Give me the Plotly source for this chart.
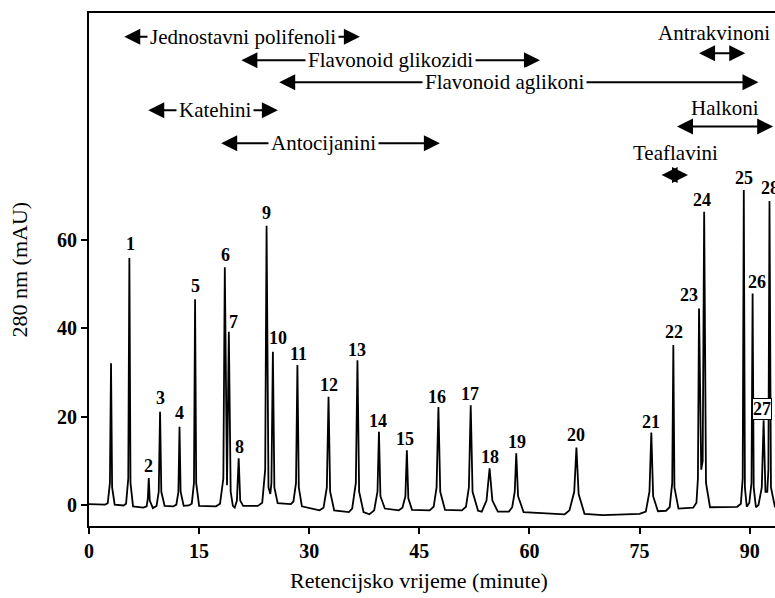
import plotly.graph_objects as go

# chromatogram trace (retention time in min, signal in mAU)
trace_t = [
    0, 2.2,
    2.55, 2.85, 3.0, 3.15, 3.5,
    4.7, 5.05, 5.35, 5.5, 5.65, 6.0,
    7.4, 7.85, 8.02, 8.14, 8.28, 8.7,
    9.2, 9.5, 9.68, 9.85, 10.3,
    11.5, 11.9, 12.18, 12.33, 12.48, 12.9,
    13.6, 14.0, 14.3, 14.45, 14.6, 15.0,
    17.3, 17.85, 18.3, 18.5, 18.8, 19.05, 19.3, 19.6, 19.85,
    20.15, 20.39, 20.6, 21.0,
    23.0, 23.6, 24.0, 24.19, 24.45, 24.7, 24.85, 25.05, 25.25, 25.7,
    27.5, 27.85, 28.2, 28.39, 28.58, 29.0,
    31.4, 31.95, 32.4, 32.63, 32.85, 33.4,
    35.4, 35.85, 36.35, 36.57, 36.8, 37.4,
    38.2, 38.85, 39.3, 39.5, 39.7, 40.3,
    42.2, 42.7, 43.1, 43.3, 43.5, 44.0,
    46.4, 46.95, 47.35, 47.6, 47.85, 48.5,
    50.8, 51.35, 51.75, 52.0, 52.25, 53.0,
    53.5, 54.15, 54.57, 54.95, 55.7,
    57.2, 57.65, 58.0, 58.2, 58.45, 59.2,
    64.8, 65.45, 66.1, 66.4, 66.7, 67.5,
    70.0, 75.0, 75.85, 76.35, 76.6, 76.85, 77.5,
    78.6, 79.1, 79.45, 79.6, 79.75, 80.3,
    82.3, 82.75, 82.95, 83.1, 83.4, 83.6, 83.8, 84.05, 84.6,
    88.3, 88.8, 89.05, 89.2, 89.35, 89.6, 89.95, 90.25, 90.4, 90.55, 90.85, 91.2,
    91.65, 91.9, 92.15, 92.4, 92.55, 92.7, 92.9, 93.45,
]
trace_mau = [
    0.2, 0.1,
    0.4, 5.0, 32.1, 4.0, 0.1,
    -0.1, 0.3, 6.0, 55.9, 5.0, -0.3,
    -0.6, -0.3, 1.5, 6.1, 1.0, -0.7,
    -0.2, 3.0, 21.1, 3.0, -0.2,
    -0.3, 0.1, 3.0, 17.7, 3.0, -0.2,
    -0.1, 0.3, 5.0, 46.6, 5.0, -0.2,
    -0.3, 0.3, 6.0, 53.8, 4.5, 39.2, 3.0, -0.2, -0.6,
    1.0, 10.6, 1.0, -0.2,
    -0.2, 0.5, 8.0, 63.2, 4.0, 2.5, 5.0, 34.7, 4.0, 0.4,
    0.2, 0.8, 5.0, 31.7, 4.0, -0.3,
    -1.2, -0.6, 4.0, 24.5, 3.0, -1.2,
    -1.6, -0.8, 5.0, 32.8, 3.0, -1.6,
    -2.1, -1.2, 3.0, 16.6, 2.0, -0.8,
    -1.2, -0.6, 2.0, 12.4, 1.5, -1.1,
    -1.2, -0.4, 4.0, 22.2, 3.0, -1.1,
    -1.2, -0.4, 4.0, 22.6, 3.0, -1.3,
    -1.5, 1.0, 8.3, 1.0, -1.5,
    -1.5, -0.5, 3.0, 11.7, 2.0, -1.6,
    -2.1, -1.2, 3.0, 13.0, 2.5, -2.0,
    -2.3, -2.0, -1.5, 3.0, 16.4, 2.0, -1.4,
    -1.3, -0.5, 5.0, 36.2, 4.0, -0.8,
    -0.6, 0.5, 6.0, 44.5, 8.0, 10.0, 66.4, 5.0, -0.5,
    -0.4, 0.3, 6.0, 71.3, 4.0, -0.4, 0.5, 5.0, 47.9, 4.0, -0.5, 0.0,
    4.0, 19.2, 3.0, 3.0, 8.0, 68.8, 4.0, -0.5,
]

# peak numbers and where their labels sit
peak_labels = [str(i) for i in range(1, 29)]
label_t = [5.65, 8.14, 9.73, 12.37, 14.5, 18.6, 19.64, 20.46, 24.19, 25.78,
           28.5, 32.73, 36.46, 39.42, 43.05, 47.46, 51.9, 54.64, 58.28, 66.37,
           76.55, 79.67, 81.8, 83.5, 89.2, 91.0, 91.7, 92.8]
label_mau = [59.1, 8.8, 24.2, 20.8, 49.6, 56.6, 41.5, 13.2, 66.0, 37.9,
             34.3, 27.2, 35.2, 19.1, 14.9, 24.5, 25.1, 10.9, 14.3, 15.8,
             18.9, 39.2, 47.5, 69.0, 74.1, 50.6, 21.7, 71.7]

# compound classes: elution range and label (label sits on the arrow)
group_names = ["Jednostavni polifenoli", "Flavonoid glikozidi", "Flavonoid aglikoni",
               "Katehini", "Antocijanini"]
group_start = [4.6, 20.55, 25.7, 7.87, 17.8]
group_end = [36.9, 61.43, 91.2, 25.73, 47.8]
group_text_t = [21.0, 41.1, 56.55, 17.1, 32.0]
group_level = [106.0, 100.7, 95.7, 89.4, 81.9]

# classes with the label above a short range arrow
top_names = ["Antrakvinoni", "Halkoni", "Teaflavini"]
top_start = [82.9, 79.9, 77.8]
top_end = [89.4, 93.2, 81.6]
top_text_t = [85.1, 86.7, 79.9]
top_text_level = [106.9, 89.9, 79.7]
top_arrow_level = [102.3, 85.7, 74.7]

SERIF = "Liberation Serif, Times New Roman, serif"

fig = go.Figure()
fig.add_trace(go.Scatter(
    x=trace_t, y=trace_mau, mode="lines",
    line=dict(color="black", width=1.8),
    hoverinfo="skip",
))

annotations = []

# double headed arrows first, labels with white background go on top
for s, e, lv in zip(group_start + top_start, group_end + top_end,
                    group_level + top_arrow_level):
    annotations.append(dict(
        x=e, y=lv, ax=s, ay=lv, xref="x", yref="y", axref="x", ayref="y",
        text="", showarrow=True, arrowhead=2, arrowside="end+start",
        arrowsize=1.6, arrowwidth=2, arrowcolor="black", standoff=0, startstandoff=0,
    ))

# lower labels first so the upper label's box never hides the one above it
order = sorted(range(len(group_names)), key=lambda i: group_level[i])
for i in order:
    annotations.append(dict(
        x=group_text_t[i], y=group_level[i], xref="x", yref="y", text=group_names[i],
        showarrow=False, bgcolor="white", borderpad=2,
        font=dict(family=SERIF, size=21, color="black"),
    ))

for name, tt, lv in zip(top_names, top_text_t, top_text_level):
    annotations.append(dict(
        x=tt, y=lv, xref="x", yref="y", text=name, showarrow=False,
        font=dict(family=SERIF, size=21, color="black"),
    ))

for lab, tt, lv in zip(peak_labels, label_t, label_mau):
    boxed = lab == "27"
    annotations.append(dict(
        x=tt, y=lv, xref="x", yref="y", text=lab, showarrow=False,
        bgcolor="white" if boxed else None,
        bordercolor="black" if boxed else None,
        borderwidth=1 if boxed else 0, borderpad=0,
        font=dict(family=SERIF, size=18, color="black", weight="bold"),
    ))

# axis titles
annotations.append(dict(
    x=0.481, y=-0.107, xref="paper", yref="paper", xanchor="center", yanchor="middle",
    text="Retencijsko vrijeme (minute)",
    showarrow=False, font=dict(family=SERIF, size=22, color="black"),
))
annotations.append(dict(
    x=-0.1006, y=0.5, xref="paper", yref="paper", xanchor="center", yanchor="middle",
    text="280 nm (mAU)", textangle=-90,
    showarrow=False, font=dict(family=SERIF, size=22, color="black"),
))

fig.update_layout(
    width=775, height=598,
    margin=dict(l=89, r=0, t=13, b=72),
    plot_bgcolor="white", paper_bgcolor="white",
    showlegend=False,
    font=dict(family=SERIF, color="black"),
    annotations=annotations,
)

fig.update_xaxes(
    range=[0, 93.45], tickvals=[0, 15, 30, 45, 60, 75, 90],
    ticks="outside", ticklen=6, tickwidth=2, tickcolor="black",
    showline=True, linewidth=2, linecolor="black", mirror=True,
    showgrid=False, zeroline=False,
    tickfont=dict(family=SERIF, size=20, color="black", weight="bold"),
)
fig.update_yaxes(
    range=[-4.75, 111.39], tickvals=[0, 20, 40, 60],
    ticks="outside", ticklen=6, tickwidth=2, tickcolor="black",
    showline=True, linewidth=2, linecolor="black",
    showgrid=False, zeroline=False,
    tickfont=dict(family=SERIF, size=20, color="black", weight="bold"),
)

# drop the page's default body margin so the figure fills the window exactly
fig.write_html(
    "out.html",
    config={"displayModeBar": False},
    post_script="document.body.style.margin='0';"
                "document.documentElement.style.overflow='hidden';",
)
